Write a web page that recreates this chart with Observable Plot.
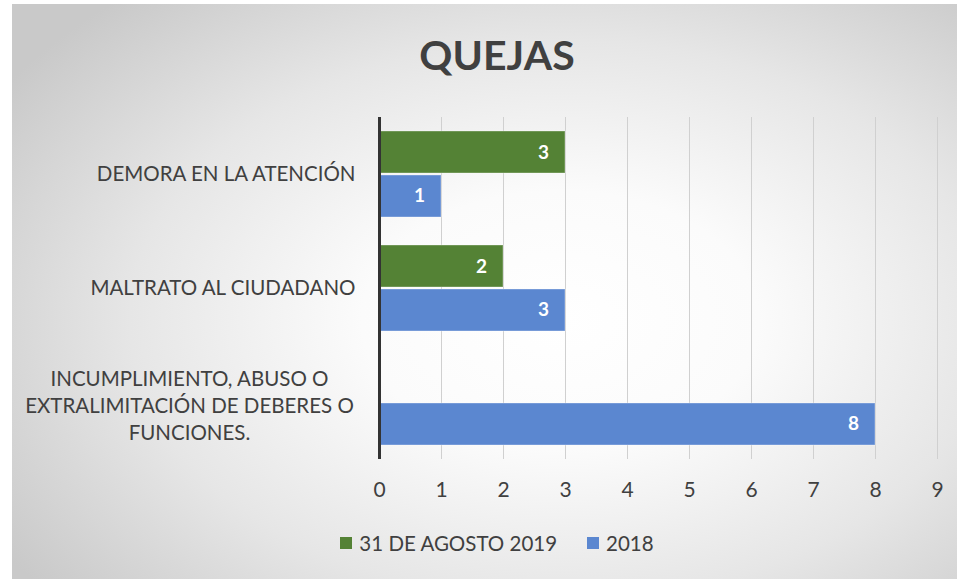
<!DOCTYPE html>
<html>
<head>
<meta charset="utf-8">
<script src="https://cdn.jsdelivr.net/npm/d3@7"></script>
<script src="https://cdn.jsdelivr.net/npm/@observablehq/plot@0.6"></script>
<style>
  html, body { margin: 0; padding: 0; background: #ffffff; }
  #page { position: relative; width: 957px; height: 579px; overflow: hidden; background: #fff; }
  #chart {
    position: absolute; left: 12px; top: 4px; width: 945px; height: 575px;
    background: radial-gradient(ellipse 70% 75% at 58% 55%, #ffffff 0%, #fbfbfb 30%, #e6e6e6 65%, #c9c9c9 100%);
  }
  #title {
    position: absolute; left: 0; top: 30px; width: 994px; text-align: center;
    font-family: Lato, sans-serif; font-weight: 700; font-size: 41px; color: #404040;
  }
  #plot { position: absolute; left: 0; top: 0; }
  #legend {
    position: absolute; left: 0; top: 531px; height: 24px; width: 994px; display: flex; justify-content: center; align-items: center;
    font-family: Lato, sans-serif; font-size: 20.5px; color: #404040;
  }
  .item { display: flex; align-items: center; margin: 0 15px; }
  .sw { width: 12px; height: 12px; margin-right: 7px; }
</style>
</head>
<body>
<div id="page">
  <div id="chart"></div>
  <div id="title">QUEJAS</div>
  <div id="plot"></div>
  <div id="legend"></div>
</div>
<script>
const categories = [
  "DEMORA EN LA ATENCIÓN",
  "MALTRATO AL CIUDADANO",
  "INCUMPLIMIENTO, ABUSO O\nEXTRALIMITACIÓN DE DEBERES O\nFUNCIONES."
];
const seriesNames = ["31 DE AGOSTO 2019", "2018"];
const values2019 = [3, 2, null];
const values2018 = [1, 3, 8];
const xTicks = [0, 1, 2, 3, 4, 5, 6, 7, 8, 9];
const colors = ["#548235", "#5b87d0"];

const rows2019 = categories.map((c, i) => ({category: c, value: values2019[i]})).filter(d => d.value != null && d.value > 0);
const rows2018 = categories.map((c, i) => ({category: c, value: values2018[i]})).filter(d => d.value != null && d.value > 0);
const singleLine = categories.filter(c => !c.includes("\n"));
const multiLine = categories.filter(c => c.includes("\n"));

const font = "Lato, sans-serif";
const plot = Plot.plot({
  width: 957,
  height: 510,
  marginLeft: 379,
  marginRight: 20,
  marginTop: 117,
  marginBottom: 51,
  style: {background: "transparent", fontFamily: font, color: "#404040", overflow: "visible"},
  x: {domain: [0, 9], ticks: xTicks, axis: null},
  y: {domain: categories, paddingInner: 0.245, paddingOuter: 0.1225, axis: null},
  marks: [
    Plot.ruleX(xTicks.filter(t => t > 0), {stroke: "#d0d0d0", strokeWidth: 1}),
    Plot.barX(rows2019, {x: "value", y: "category", fill: colors[0], insetBottom: 44, stroke: "#ffffff", strokeOpacity: 0.35, strokeWidth: 1}),
    Plot.barX(rows2018, {x: "value", y: "category", fill: colors[1], insetTop: 44, stroke: "#ffffff", strokeOpacity: 0.35, strokeWidth: 1}),
    Plot.text(rows2019, {x: "value", y: "category", text: d => String(d.value), dx: -22, dy: -21.5, fill: "white", fontWeight: "bold", fontSize: 19}),
    Plot.text(rows2018, {x: "value", y: "category", text: d => String(d.value), dx: -22, dy: 21.5, fill: "white", fontWeight: "bold", fontSize: 19}),
    Plot.ruleX([0], {stroke: "#333333", strokeWidth: 3}),
    Plot.axisX({ticks: xTicks, tickSize: 0, tickPadding: 23, fontSize: 21, label: null, tickFormat: d => String(d), fill: "#404040"}),
    Plot.text(singleLine, {y: d => d, text: d => d, frameAnchor: "left", textAnchor: "end", dx: -24, fontSize: 20.5, fill: "#404040"}),
    Plot.text(multiLine, {y: d => d, text: d => d, frameAnchor: "left", textAnchor: "middle", dx: -190, dy: 2, fontSize: 20.5, lineHeight: 1.32, fill: "#404040"})
  ]
});
document.getElementById("plot").appendChild(plot);

const legend = document.getElementById("legend");
seriesNames.forEach((name, i) => {
  const item = document.createElement("div");
  item.className = "item";
  const sw = document.createElement("div");
  sw.className = "sw";
  sw.style.background = colors[i];
  const label = document.createElement("span");
  label.textContent = name;
  item.appendChild(sw);
  item.appendChild(label);
  legend.appendChild(item);
});
</script>
</body>
</html>
